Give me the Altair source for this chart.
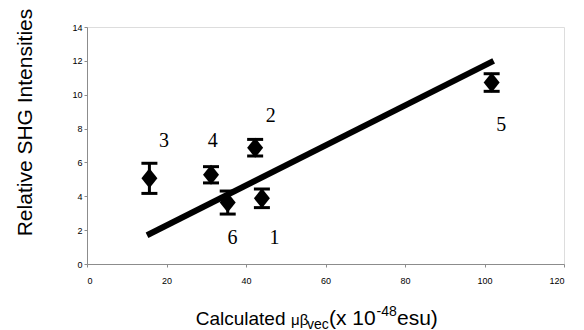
import altair as alt
import pandas as pd

labels = ["1", "2", "3", "4", "5", "6"]
mu_beta = [44.0, 42.3, 15.7, 31.2, 101.8, 35.4]
shg = [3.88, 6.87, 5.06, 5.27, 10.72, 3.63]
err = [0.55, 0.49, 0.89, 0.48, 0.52, 0.68]
label_x = [47.2, 46.2, 19.35, 31.66, 104.2, 36.6]
label_y = [1.52, 8.75, 7.28, 7.28, 8.21, 1.52]
fit_x = [15.1, 102.3]
fit_y = [1.7, 12.0]
x_ticks = [0, 20, 40, 60, 80, 100, 120]
y_ticks = [0, 2, 4, 6, 8, 10, 12, 14]

pts = pd.DataFrame({
    "lab": labels, "x": mu_beta, "y": shg,
    "lo": [a - b for a, b in zip(shg, err)],
    "hi": [a + b for a, b in zip(shg, err)],
    "lx": label_x, "ly": label_y,
})
fit = pd.DataFrame({"x": fit_x, "y": fit_y})

W, H = 477, 237
AXFONT = "Liberation Sans"

xs = alt.Scale(domain=[0, 120], nice=False)
ys = alt.Scale(domain=[0, 14], nice=False)

x_axis = alt.Axis(values=x_ticks, grid=False, title=None, domainColor="#8c8c8c",
                  tickColor="#8c8c8c", tickSize=3, labelFont=AXFONT, labelFontSize=9,
                  labelColor="#000", labelPadding=9, labelOverlap=False)
y_axis = alt.Axis(values=y_ticks, grid=False, title=None, domainColor="#8c8c8c",
                  tickColor="#8c8c8c", tickSize=3, labelFont=AXFONT, labelFontSize=9,
                  labelColor="#000", labelPadding=2, labelOverlap=False)

X = lambda f: alt.X(f, scale=xs, axis=x_axis)
Y = lambda f: alt.Y(f, scale=ys, axis=y_axis)

base = alt.Chart(pts)

line = alt.Chart(fit).mark_line(color="black", strokeWidth=6, strokeCap="butt").encode(
    x=X("x:Q"), y=Y("y:Q"))

bars = base.mark_rule(color="black", strokeWidth=3, opacity=1).encode(
    x=X("x:Q"), y=Y("lo:Q"), y2="hi:Q")
cap_lo = base.mark_tick(color="black", thickness=3, size=16, orient="horizontal",
                        opacity=1).encode(x=X("x:Q"), y=Y("lo:Q"))
cap_hi = base.mark_tick(color="black", thickness=3, size=16, orient="horizontal",
                        opacity=1).encode(x=X("x:Q"), y=Y("hi:Q"))
diam = base.mark_point(shape="M0,-1L0.8,0L0,1L-0.8,0Z", size=400, filled=True,
                       color="black", opacity=1).encode(x=X("x:Q"), y=Y("y:Q"))
nums = base.mark_text(font="Liberation Serif", fontSize=20, color="black",
                      baseline="middle", align="center").encode(
    x=X("lx:Q"), y=Y("ly:Q"), text="lab:N")

def txt(s, x, y, size=19, angle=0, baseline="alphabetic", align="left"):
    return alt.Chart(pd.DataFrame({"t": [s]})).mark_text(
        font=AXFONT, fontSize=size, color="black", angle=angle,
        baseline=baseline, align=align).encode(
        x=alt.value(x), y=alt.value(y), text="t:N")

ytitle = txt("Relative SHG Intensities", -55, 95.5, size=21, angle=270, align="center")
xt1 = txt("Calculated", 108.7, 298, size=19)
xt2 = txt("\u03bc\u03b2", 204, 298, size=15)
xt3 = txt("vec", 220, 302, size=14)
xt4 = txt("(x 10", 242, 298, size=21)
xt5 = txt("-48", 289.5, 289, size=14)
xt6 = txt("esu)", 310, 298, size=21)

chart = alt.layer(line, bars, cap_lo, cap_hi, diam, nums,
                  ytitle, xt1, xt2, xt3, xt4, xt5, xt6).properties(
    width=W, height=H,
    autosize=alt.AutoSizeParams(type="none"),
    padding={"left": 79, "top": 19, "right": 10, "bottom": 68},
).configure_view(stroke=None).configure(background="white")

chart.save("out.html", embed_options={"renderer": "svg", "actions": False})
